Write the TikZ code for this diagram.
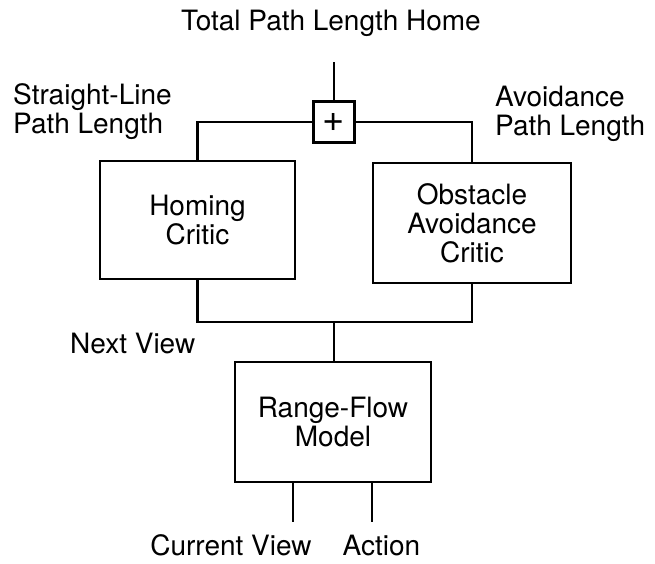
\documentclass[tikz,border=0pt]{standalone}
\usepackage{fontspec}
\setmainfont{TeX Gyre Heros}
\begin{document}
\begin{tikzpicture}[x=1pt,y=-1pt,
  every node/.style={font=\fontsize{28}{29}\selectfont},
  blk/.style={draw,line width=2.2pt,align=center,inner sep=0pt},
  lbl/.style={inner sep=0pt,align=left},
  wire/.style={line width=2.2pt}]
\useasboundingbox (0,0) rectangle (655,564);
% blocks
\node[blk,minimum width=41pt,minimum height=41pt,font=\fontsize{38}{38}\selectfont] (sum) at (334,122) {+};
\node[blk,minimum width=195pt,minimum height=118pt] (hc) at (197.5,220) {Homing\\Critic};
\node[blk,minimum width=198pt,minimum height=120pt] (oac) at (472,223) {Obstacle\\Avoidance\\Critic};
\node[blk,minimum width=196pt,minimum height=120pt] (rf) at (333,422) {Range-Flow\\Model};
% labels
\node[lbl,anchor=base] (tot) at (331,31) {Total Path Length Home};
\node[lbl,anchor=west] (sl) at (13,112) {Straight-Line\\Path Length};
\node[lbl,anchor=west] (al) at (495,113.5) {Avoidance\\Path Length};
\node[lbl,anchor=base west] (nv) at (70,353) {Next View};
\node[lbl,anchor=base] (cv) at (231,555) {Current View};
\node[lbl,anchor=base] (act) at (381.5,555) {Action};
% free ends and junction
\coordinate (out) at (334,62);
\coordinate (j) at (334,322);
\coordinate (incv) at (293,522);
\coordinate (inact) at (372,522);
% connectors
\draw[wire] (sum.north) -- (out);
\draw[wire] (hc.north) |- (sum.west);
\draw[wire] (oac.north) |- (sum.east);
\draw[wire] (hc.south) |- (j) -| (oac.south);
\draw[wire] (j) -- (j |- rf.north);
\draw[wire] (incv |- rf.south) -- (incv);
\draw[wire] (inact |- rf.south) -- (inact);
\end{tikzpicture}
\end{document}
